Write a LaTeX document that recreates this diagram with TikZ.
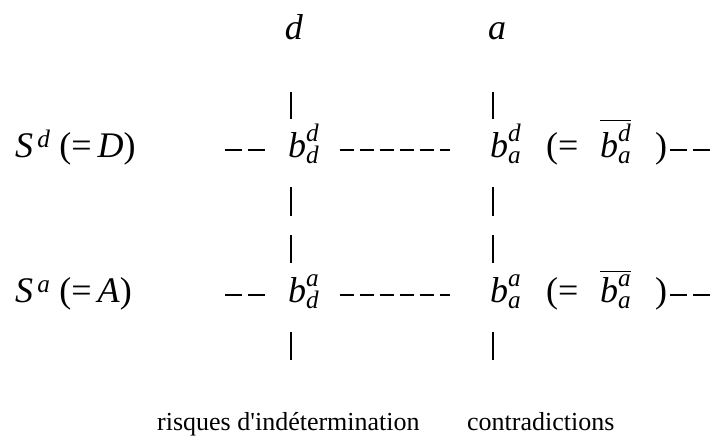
\documentclass[tikz,border=0pt]{standalone}
\usepackage{amsmath}
\usepackage{fontspec}
\setmainfont{Liberation Serif}
\usepackage{tikz}
\newcommand{\bvar}[2]{\textit{b}^{\textit{#1}}_{\textit{#2}}}
\newcommand{\bbar}[2]{\overline{\textit{b}^{\textit{#1}}_{\textit{#2}}}}

\begin{document}
\begin{tikzpicture}[x=1pt, y=1pt,
    mathlbl/.style={anchor=base west, inner sep=0pt, font=\fontsize{36}{40}\selectfont},
    notelbl/.style={anchor=base west, inner sep=0pt, font=\fontsize{26}{30}\selectfont},
    bar/.style={line width=1.1pt},
    pairdash/.style={line width=1.1pt, dash pattern=on 17pt off 6pt},
    rundash/.style={line width=1.1pt, dash pattern=on 14pt off 6pt}]
    \useasboundingbox (0,0) rectangle (715,440);

    % column heads
    \node[mathlbl, anchor=base] (hd) at (294,400) {\textit{d}};
    \node[mathlbl, anchor=base] (ha) at (497,400) {\textit{a}};

    % row S^d
    \node[mathlbl] (sd) at (15,283) {\textit{S}$^{\,\textit{d}}$ (=\,\textit{D})};
    \node[mathlbl] (bdd) at (288,283) {$\bvar{d}{d}$};
    \node[mathlbl] (bda) at (490,283) {$\bvar{d}{a}$};
    \node[mathlbl] (eqd) at (546,283) {(=};
    \node[mathlbl] (bard) at (600,283) {$\bbar{d}{a}$};
    \node[mathlbl] (cld) at (655,283) {)};
    \coordinate (dd) at (0,290);

    % row S^a
    \node[mathlbl] (sa) at (15,138) {\textit{S}$^{\,\textit{a}}$ (=\,\textit{A})};
    \node[mathlbl] (bad) at (288,138) {$\bvar{a}{d}$};
    \node[mathlbl] (baa) at (490,138) {$\bvar{a}{a}$};
    \node[mathlbl] (eqa) at (546,138) {(=};
    \node[mathlbl] (bara) at (600,138) {$\bbar{a}{a}$};
    \node[mathlbl] (cla) at (655,138) {)};
    \coordinate (da) at (0,145);

    % dashes
    \draw[pairdash] (225,0 |- dd) -- ([xshift=-23pt]bdd.west |- dd);
    \draw[rundash] ([xshift=20pt]bdd.east |- dd) -- ([xshift=-40pt]bda.west |- dd);
    \draw[pairdash] ([xshift=3pt]cld.east |- dd) -- (713,0 |- dd);
    \draw[pairdash] (225,0 |- da) -- ([xshift=-23pt]bad.west |- da);
    \draw[rundash] ([xshift=20pt]bad.east |- da) -- ([xshift=-40pt]baa.west |- da);
    \draw[pairdash] ([xshift=3pt]cla.east |- da) -- (713,0 |- da);

    % column bars
    \foreach \x in {291,493}
        \foreach \ya/\yb in {348/321, 253/224, 205/177, 108/80}
            \draw[bar] (\x,\ya) -- (\x,\yb);

    % bottom notes
    \node[notelbl] (risk) at (157,10) {risques d\textquotesingle ind\'etermination};
    \node[notelbl] (contr) at (467,10) {contradictions};
\end{tikzpicture}
\end{document}
